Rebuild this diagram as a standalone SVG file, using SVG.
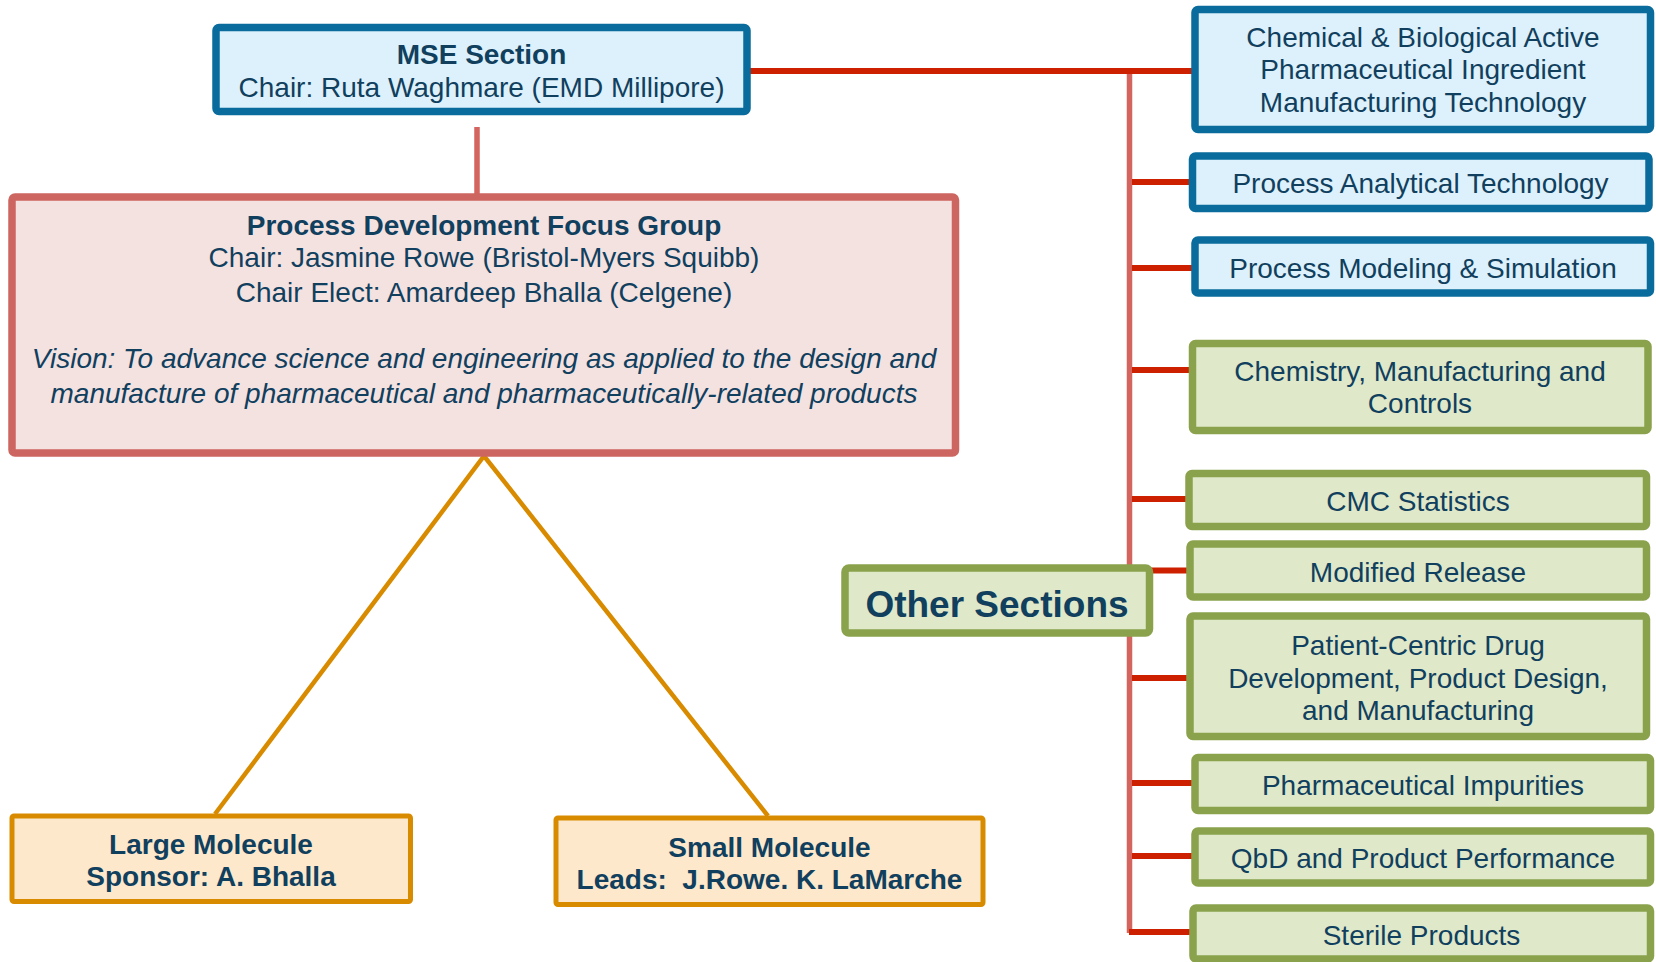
<svg xmlns="http://www.w3.org/2000/svg" width="1656" height="962" viewBox="0 0 1656 962">
  <style>
    text { font-family: "Liberation Sans", Arial, sans-serif; font-size: 28px; fill: #113F5E; text-anchor: middle; }
    .b { font-weight: bold; }
    .i { font-style: italic; }
    .blue { fill: #DDF1FC; stroke: #0A6C9C; stroke-width: 7.5; }
    .green { fill: #DFE8C9; stroke: #8BA24C; stroke-width: 7.5; }
    .pink { fill: #F4E2E1; stroke: #CD6660; stroke-width: 7.5; }
    .orange { fill: #FDE8CB; stroke: #D98B00; stroke-width: 5; }
    .branch { stroke: #CC2000; stroke-width: 6; fill: none; }
    .trunk { stroke: #D3645E; stroke-width: 5.5; fill: none; }
    .leg { stroke: #D98B00; stroke-width: 4.5; fill: none; }
  </style>

  <!-- connectors -->
  <g id="connectors">
    <line class="trunk" x1="1129.5" y1="71" x2="1129.5" y2="933"/>
    <line class="trunk" x1="477" y1="127" x2="477" y2="195"/>
    <line class="branch" x1="747" y1="71" x2="1192" y2="71"/>
    <line class="branch" x1="1132" y1="182" x2="1189" y2="182"/>
    <line class="branch" x1="1132" y1="268" x2="1192" y2="268"/>
    <line class="branch" x1="1132" y1="370" x2="1189" y2="370"/>
    <line class="branch" x1="1132" y1="499" x2="1186" y2="499"/>
    <line class="branch" x1="1132" y1="570.5" x2="1187" y2="570.5"/>
    <line class="branch" x1="1132" y1="678" x2="1187" y2="678"/>
    <line class="branch" x1="1132" y1="783" x2="1192" y2="783"/>
    <line class="branch" x1="1132" y1="856" x2="1192" y2="856"/>
    <line class="branch" x1="1129" y1="932" x2="1190" y2="932"/>
    <polyline class="leg" points="215,814 484,456 768,816"/>
  </g>

  <g id="mse-section">
    <rect class="blue" x="216" y="27.5" width="531" height="84" rx="3"/>
    <text class="b" x="481.5" y="63.5">MSE Section</text>
    <text x="481.5" y="97">Chair: Ruta Waghmare (EMD Millipore)</text>
  </g>

  <g id="process-development">
    <rect class="pink" x="12" y="197" width="943.5" height="256" rx="3"/>
    <text class="b" x="484" y="235">Process Development Focus Group</text>
    <text x="484" y="267">Chair: Jasmine Rowe (Bristol-Myers Squibb)</text>
    <text x="484" y="302">Chair Elect: Amardeep Bhalla (Celgene)</text>
    <text class="i" x="484" y="367.5">Vision: To advance science and engineering as applied to the design and</text>
    <text class="i" x="484" y="402.5">manufacture of pharmaceutical and pharmaceutically-related products</text>
  </g>

  <g id="large-molecule">
    <rect class="orange" x="12" y="816" width="398.5" height="85.5" rx="2"/>
    <text class="b" x="211" y="854">Large Molecule</text>
    <text class="b" x="211" y="886">Sponsor: A. Bhalla</text>
  </g>

  <g id="small-molecule">
    <rect class="orange" x="556" y="818" width="427" height="86.5" rx="2"/>
    <text class="b" x="769.5" y="857">Small Molecule</text>
    <text class="b" x="769.5" y="889" xml:space="preserve">Leads:  J.Rowe. K. LaMarche</text>
  </g>

  <g id="other-sections">
    <rect class="green" x="845" y="568" width="304.5" height="65" rx="4"/>
    <text class="b" x="997" y="617" style="font-size:37px">Other Sections</text>
  </g>

  <g id="api-manufacturing">
    <rect class="blue" x="1195" y="9.5" width="455.5" height="120" rx="3"/>
    <text x="1423" y="46.5">Chemical &amp; Biological Active</text>
    <text x="1423" y="79">Pharmaceutical Ingredient</text>
    <text x="1423" y="112">Manufacturing Technology</text>
  </g>

  <g id="process-analytical">
    <rect class="blue" x="1192.5" y="156" width="456.5" height="52.5" rx="3"/>
    <text x="1420.5" y="193">Process Analytical Technology</text>
  </g>

  <g id="process-modeling">
    <rect class="blue" x="1195" y="240" width="455.5" height="53" rx="3"/>
    <text x="1423" y="277.5">Process Modeling &amp; Simulation</text>
  </g>

  <g id="cmc">
    <rect class="green" x="1192.5" y="343.5" width="455.5" height="87" rx="3"/>
    <text x="1420" y="381">Chemistry, Manufacturing and</text>
    <text x="1420" y="412.5">Controls</text>
  </g>

  <g id="cmc-statistics">
    <rect class="green" x="1189" y="473.5" width="457.5" height="53" rx="3"/>
    <text x="1418" y="511">CMC Statistics</text>
  </g>

  <g id="modified-release">
    <rect class="green" x="1190" y="544" width="456.5" height="53" rx="3"/>
    <text x="1418" y="582">Modified Release</text>
  </g>

  <g id="patient-centric">
    <rect class="green" x="1190" y="616" width="456.5" height="120.5" rx="3"/>
    <text x="1418" y="655">Patient-Centric Drug</text>
    <text x="1418" y="688">Development, Product Design,</text>
    <text x="1418" y="720">and Manufacturing</text>
  </g>

  <g id="pharmaceutical-impurities">
    <rect class="green" x="1195" y="757.5" width="455.5" height="53" rx="3"/>
    <text x="1423" y="795">Pharmaceutical Impurities</text>
  </g>

  <g id="qbd">
    <rect class="green" x="1195" y="831" width="455.5" height="52" rx="3"/>
    <text x="1423" y="868">QbD and Product Performance</text>
  </g>

  <g id="sterile-products">
    <rect class="green" x="1193" y="908" width="457.5" height="51" rx="3"/>
    <text x="1421.5" y="945">Sterile Products</text>
  </g>
</svg>
